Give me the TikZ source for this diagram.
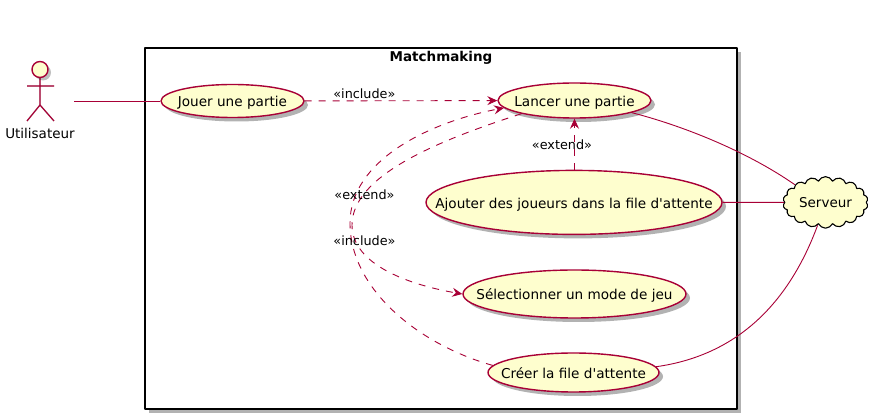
\documentclass[tikz,border=0pt]{standalone}
\usepackage{fontspec}
\setmainfont{DejaVu Sans}
\usetikzlibrary{arrows.meta,shadows,shapes.geometric,shapes.symbols}
\definecolor{umlline}{HTML}{A80036}
\definecolor{umlfill}{HTML}{FEFECE}
\newcommand{\casetext}[1]{\makebox[0pt]{\raisebox{-.42em}[0pt][0pt]{#1}}}
\tikzset{
    usecase/.style={ellipse,draw=umlline,fill=umlfill,line width=1.4pt,inner sep=0pt,
        font=\fontsize{13.6}{16}\selectfont,
        drop shadow={shadow xshift=4pt,shadow yshift=-4pt,fill=black,opacity=.3}},
    link/.style={draw=umlline,line width=.9pt},
    dep/.style={link,dash pattern=on 7pt off 7pt,-{Stealth[length=10pt,width=9pt,inset=3.5pt,fill=umlline]}},
    deplabel/.style={font=\fontsize{12.8}{14}\selectfont,inner sep=0pt}
}
\begin{document}
\begin{tikzpicture}[x=1pt,y=-1pt,line join=round,line cap=butt,>=stealth]
    \useasboundingbox (0,0) rectangle (879,419);
    \node[draw=black,fill=white,line width=1.6pt,minimum width=592pt,minimum height=361pt,inner sep=0pt,
        drop shadow={shadow xshift=4pt,shadow yshift=-4pt,fill=black,opacity=.3}] (box) at (441,228.5) {};
    \node[font=\fontsize{13.5}{16}\selectfont\bfseries,inner sep=0pt] (title) at (441,58) {Matchmaking};
    % actor
    \coordinate (neck) at (40,78);
    \coordinate (hip) at (40,105);
    \coordinate (armL) at (27,86);
    \coordinate (armR) at (54,86);
    \coordinate (legL) at (27,121);
    \coordinate (legR) at (54,121);
    \coordinate (actorEnd) at (74,101);
    \begin{scope}[shift={(4,4)},black!22,line width=1.4pt]
        \draw (neck)--(hip) (armL)--(armR) (legL)--(hip)--(legR);
    \end{scope}
    \draw[umlline,line width=1.2pt] (neck)--(hip) (armL)--(armR) (legL)--(hip)--(legR);
    \node[circle,draw=umlline,fill=umlfill,line width=1.4pt,minimum size=16pt,inner sep=0pt,
        drop shadow={shadow xshift=3pt,shadow yshift=-3pt,fill=black,opacity=.25}] (head) at (40,69.5) {};
    \node[font=\fontsize{13.5}{16}\selectfont,inner sep=0pt] (actor) at (40,133) {Utilisateur};
    % use cases
    \node[usecase,minimum width=143pt,minimum height=33pt] (jouer) at (232.5,101) {\casetext{Jouer une partie}};
    \node[usecase,minimum width=153pt,minimum height=35pt] (lancer) at (574.5,100.5) {\casetext{Lancer une partie}};
    \node[usecase,minimum width=296pt,minimum height=64pt] (ajouter) at (574,202.4) {\casetext{Ajouter des joueurs dans la file d\textquotesingle attente}};
    \node[usecase,minimum width=223pt,minimum height=48pt] (selection) at (574.5,294) {\casetext{Sélectionner un mode de jeu}};
    \node[usecase,minimum width=171pt,minimum height=39pt] (creer) at (573.5,372.5) {\casetext{Créer la file d\textquotesingle attente}};
    \node[cloud,cloud puffs=18,cloud puff arc=130,aspect=1.7,draw=black,fill=umlfill,line width=1.1pt,inner sep=0pt,
        minimum width=85pt,minimum height=49pt,font=\fontsize{13.5}{16}\selectfont] (serveur) at (825.5,202.4) {Serveur};
    % links
    \draw[link] (actorEnd) -- (jouer);
    \draw[link] (lancer.348) .. controls (680,125) and (745,150) .. (serveur.150);
    \draw[link] (ajouter) -- (serveur);
    \draw[link] (creer.4) .. controls (740,355) and (790,300) .. (serveur.251);
    \draw[dep] (jouer) -- (lancer) node[deplabel,pos=.31,above=0pt,yshift=2pt] (inc1) {«include»};
    \draw[dep] (ajouter.north -| lancer) -- (lancer.south) node[deplabel,pos=.5,xshift=-12.5pt,yshift=-1pt] (ext1) {«extend»};
    \draw[dep] (creer.175) .. controls (420,345) and (350,290) .. (350,223)
        .. controls (350,160) and (430,122) .. (lancer.186);
    \draw[dep] (lancer.194) .. controls (440,140) and (352,175) .. (352,225)
        .. controls (352,265) and (410,285) .. (selection.west);
    \node[deplabel] (ext2) at (364.5,194.5) {«extend»};
    \node[deplabel] (inc2) at (364.5,240.5) {«include»};
\end{tikzpicture}
\end{document}
